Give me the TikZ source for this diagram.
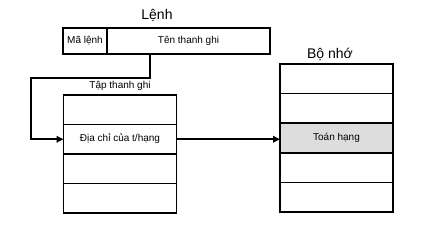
\documentclass[tikz,border=0pt]{standalone}
\usepackage{fontspec}
\setmainfont{Liberation Sans}
\usetikzlibrary{arrows.meta,positioning}
\definecolor{hlgray}{RGB}{221,221,221}
\tikzset{
  cell/.style={draw,rectangle,minimum width=113pt,minimum height=29.6pt,inner sep=0pt,outer sep=0pt,font=\fontsize{10}{12}\selectfont},
  field/.style={draw,rectangle,minimum height=26pt,inner sep=0pt,outer sep=0pt,font=\fontsize{10}{12}\selectfont},
  title/.style={font=\fontsize{14}{16}\selectfont}
}

\begin{document}
\begin{tikzpicture}[>={Triangle[length=7pt,width=6.5pt]},line width=1.7pt,x=1pt,y=-1pt]
  \useasboundingbox (0,0) rectangle (445,227);
  % instruction
  \node[title] (lenh) at (157,15) {Lệnh};
  \node[field,minimum width=44pt] (opc) at (85,41) {Mã lệnh};
  \node[field,minimum width=163pt,right=0pt of opc] (rn) {Tên thanh ghi};
  % register file
  \node[cell,minimum height=29.5pt] (r1) at (120,109.75) {};
  \node[cell,minimum height=29.5pt,below=0pt of r1] (r2) {Địa chỉ của t/hạng};
  \node[cell,minimum height=29.5pt,below=0pt of r2] (r3) {};
  \node[cell,minimum height=29.5pt,below=0pt of r3] (r4) {};
  \node[font=\fontsize{10}{12}\selectfont,above=0pt of r1] (tap) {Tập thanh ghi};
  % memory
  \node[cell] (m1) at (336.5,78.8) {};
  \node[cell,below=0pt of m1] (m2) {};
  \node[cell,fill=hlgray,below=0pt of m2] (m3) {Toán hạng};
  \node[cell,below=0pt of m3] (m4) {};
  \node[cell,below=0pt of m4] (m5) {};
  \node[title] (bonho) at (330,54) {Bộ nhớ};
  % connectors
  \coordinate (src) at (150,54);
  \coordinate (bend) at (31,78);
  \draw[->] (src) |- (bend) |- (r2.west);
  \draw[->] (r2.east) -- (r2.east -| m3.west);
\end{tikzpicture}
\end{document}
